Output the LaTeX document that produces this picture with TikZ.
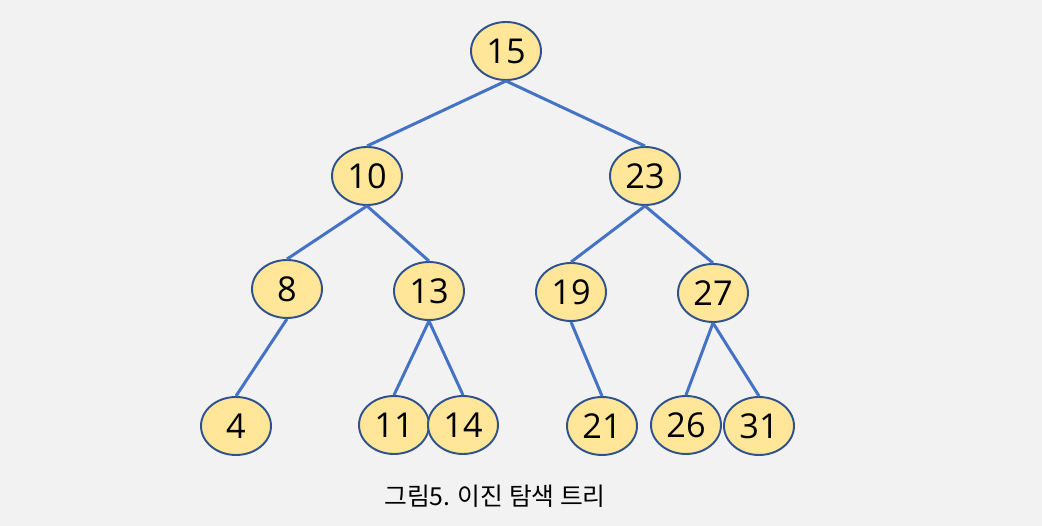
\documentclass[tikz,border=0pt]{standalone}
\usepackage{fontspec}
\setmainfont{Open Sans}
\newfontfamily\krfont{Noto Sans CJK KR}
\usepackage{tikz}
\usetikzlibrary{positioning}
\usetikzlibrary{shapes.geometric}
\definecolor{eBg}{HTML}{F2F2F2}
\definecolor{eFill}{HTML}{FFE699}
\definecolor{eBorder}{HTML}{2F528F}
\definecolor{eBlue}{HTML}{4472C4}
\tikzset{v/.style={ellipse, draw=eBorder, line width=1.1pt, fill=eFill,
  inner sep=0pt, minimum width=1.4cm, minimum height=1.16cm,
  font=\fontsize{19.5}{19.5}\selectfont}}
\tikzset{bb/.style={draw, line width=1.7pt, eBlue}}
\begin{document}
\begin{tikzpicture}[x=0.02cm, y=-0.02cm]
            \fill[eBg] (0,0) rectangle (1042,526);
            \useasboundingbox (0,0) rectangle (1042,526);
            %%
            \node (n15) at (506,51) [v] {15};
            \node (n10) at (367,176) [v] {10};
            \node (n23) at (645,176) [v] {23};
            \node (n8) at (287,289) [v] {8};
            \node (n13) at (429,291) [v] {13};
            \node (n19) at (571,292) [v] {19};
            \node (n27) at (713,293) [v] {27};
            \node (n4) at (236,426) [v] {4};
            \node (n11) at (394,425) [v] {11};
            \node (n14) at (463,425) [v] {14};
            \node (n21) at (602,426) [v] {21};
            \node (n26) at (686,425) [v] {26};
            \node (n31) at (759,426) [v] {31};
            %%
            \draw [bb] (n15.south) to (n10.north);
            \draw [bb] (n15.south) to (n23.north);
            \draw [bb] (n10.south) to (n8.north);
            \draw [bb] (n10.south) to (n13.north);
            \draw [bb] (n23.south) to (n19.north);
            \draw [bb] (n23.south) to (n27.north);
            %%
            \draw [bb] (n8.south) to (n4.north);
            \draw [bb] (n13.south) to (n11.north);
            \draw [bb] (n13.south) to (n14.north);
            \draw [bb] (n19.south) to (n21.north);
            \draw [bb] (n27.south) to (n26.north);
            \draw [bb] (n27.south) to (n31.north);
            %%
            \node (cap) at (495,496) {\krfont\fontsize{14.1}{15}\selectfont 그림5. 이진 탐색 트리};
\end{tikzpicture}
\end{document}
